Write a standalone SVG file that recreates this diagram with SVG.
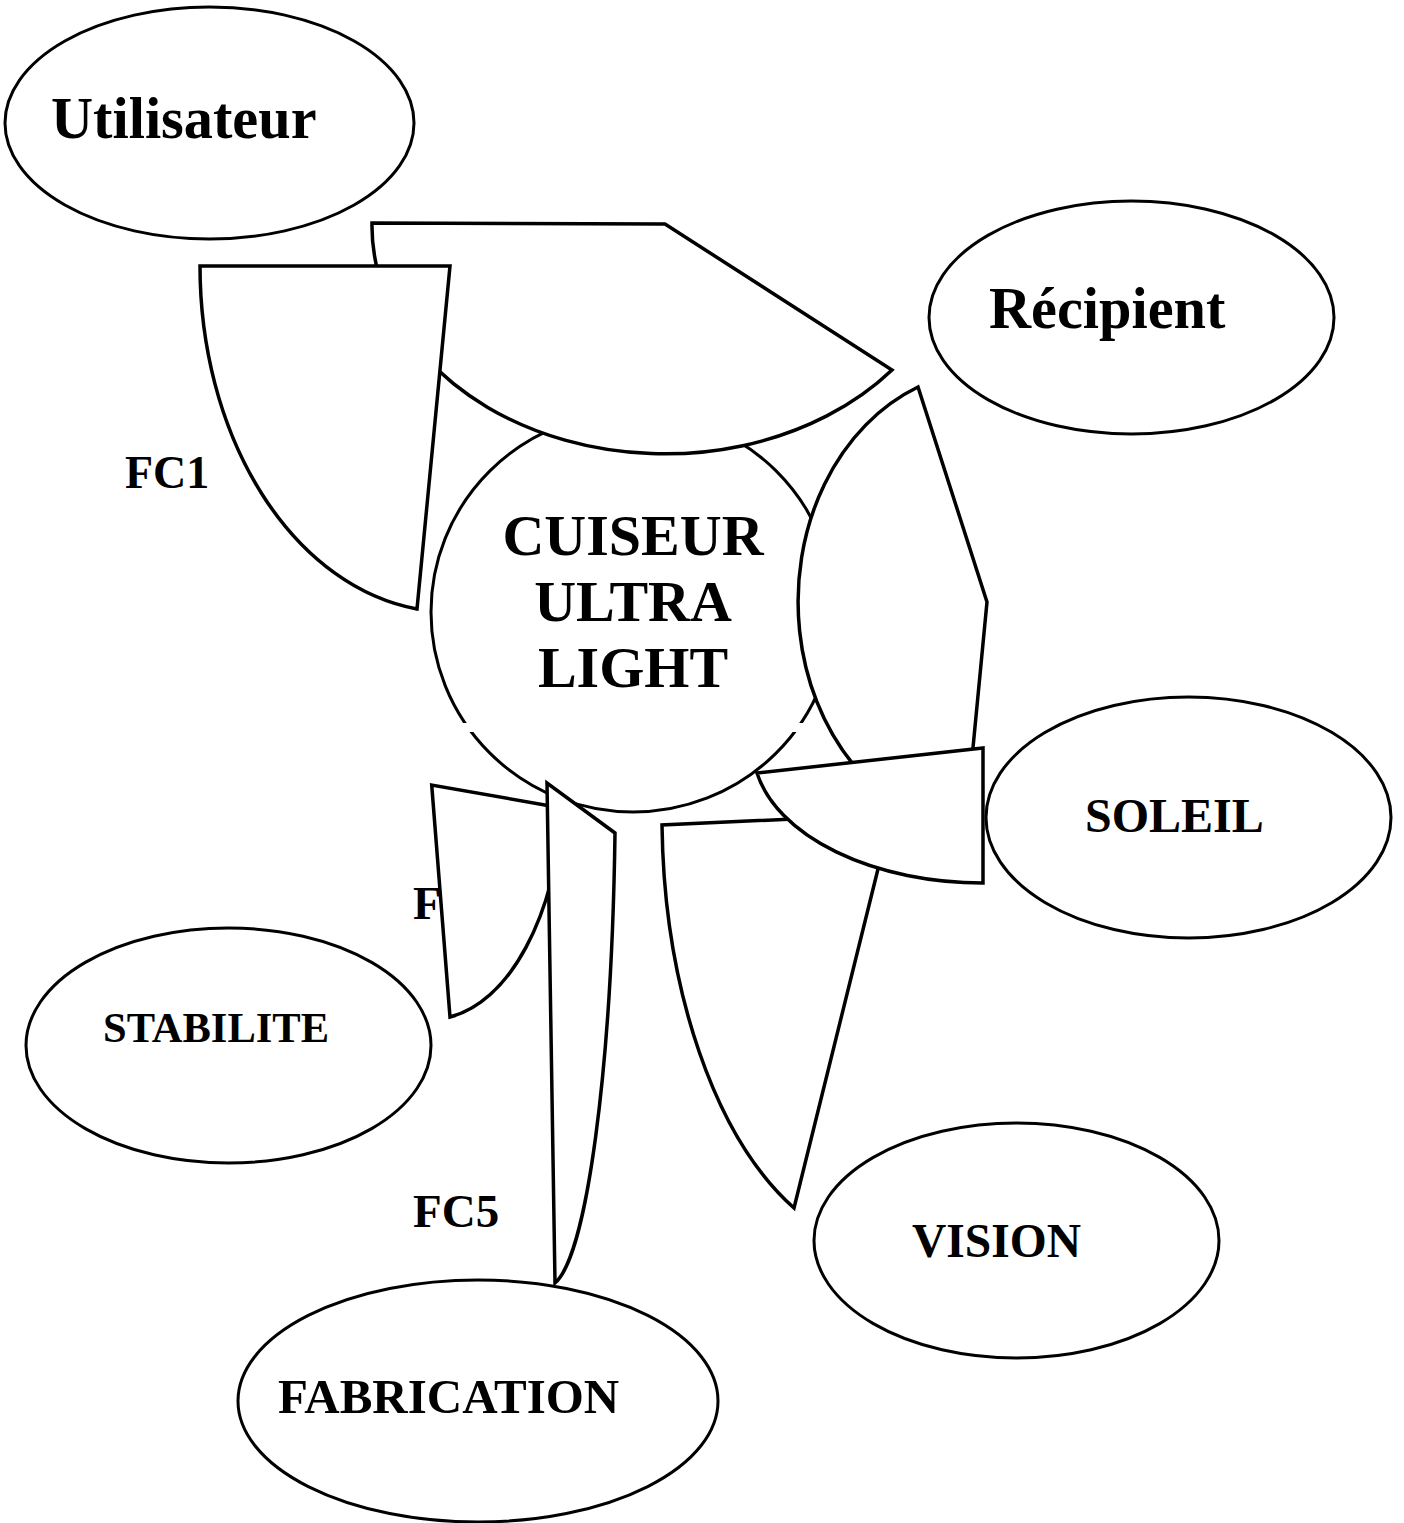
<svg xmlns="http://www.w3.org/2000/svg" width="1404" height="1523" viewBox="0 0 1404 1523">
<style>
.n{fill:#fff;stroke:#000;stroke-width:3}
.c{fill:#fff;stroke:#000;stroke-width:3.5;stroke-linejoin:miter}
.t{font-family:"Liberation Serif","Times New Roman",serif;font-weight:bold;fill:#000}
</style>
<rect width="1404" height="1523" fill="#fff"/>
<g id="utilisateur">
<ellipse class="n" cx="209.5" cy="123" rx="204.5" ry="116"/>
<text class="t" x="51" y="138" font-size="58.3">Utilisateur</text>
</g>
<g id="recipient">
<ellipse class="n" cx="1131.5" cy="317.5" rx="202.5" ry="116.5"/>
<text class="t" x="989" y="328" font-size="58.3">Récipient</text>
</g>
<g id="soleil">
<ellipse class="n" cx="1188.5" cy="817.5" rx="202.5" ry="120.5"/>
<text class="t" x="1085" y="832" font-size="48">SOLEIL</text>
</g>
<g id="stabilite">
<ellipse class="n" cx="228.5" cy="1045.5" rx="202.5" ry="117.5"/>
<text class="t" x="103" y="1042" font-size="42.5">STABILITE</text>
</g>
<g id="vision">
<ellipse class="n" cx="1016.5" cy="1240.5" rx="202.5" ry="117.5"/>
<text class="t" x="912" y="1257" font-size="47.5">VISION</text>
</g>
<g id="fabrication">
<ellipse class="n" cx="478" cy="1401" rx="240" ry="121"/>
<text class="t" x="278" y="1413" font-size="49">FABRICATION</text>
</g>
<g id="cuiseur">
<ellipse class="n" cx="633" cy="612" rx="202" ry="200"/>
<rect x="460" y="723" width="346" height="9" fill="#fff"/>
<text class="t" font-size="58" text-anchor="middle"><tspan x="633" y="555">CUISEUR</tspan><tspan x="633" y="621">ULTRA</tspan><tspan x="633" y="687">LIGHT</tspan></text>
</g>
<g id="connectors">
<path class="c" d="M665,224 L372,223 A293,228 0 0,0 892,370 Z"/>
<path class="c" d="M450,266 L200,266 A250,346 0 0,0 417,609 Z"/>
<path class="c" d="M987,602 L918,387 A190,231 0 0,0 965,831 Z"/>
<path class="c" d="M891.5,814.5 L662,825 A229.6,434.7 0 0,0 794,1208 Z"/>
<path class="c" d="M983,748 L983,883 A230,135 0 0,1 757,773 Z"/>
<text class="t" x="413" y="919" font-size="46.5">F</text>
<path class="c" d="M431.7,785 L450,1017 A130.7,234.3 0 0,0 561.8,808 Z"/>
<path class="c" d="M547,783 L555,1283 A68.2,503.5 0 0,0 615,833 Z"/>
<text class="t" x="125" y="488" font-size="46">FC1</text>
<text class="t" x="413" y="1227" font-size="47">FC5</text>
</g>
</svg>
